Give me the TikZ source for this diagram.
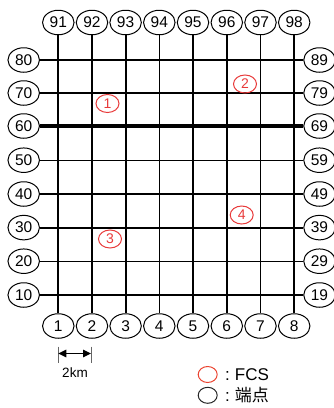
\documentclass[tikz,border=0pt]{standalone}
\usepackage{fontspec}
\setmainfont{Liberation Sans}
\newfontfamily\cjk{Noto Sans CJK SC}
\usetikzlibrary{shapes.geometric,arrows.meta}
\definecolor{fcsred}{RGB}{232,58,58}
\tikzset{
  term/.style={draw=black,line width=1pt,ellipse,minimum width=31.5pt,minimum height=24.5pt,inner sep=0pt,font=\fontsize{15.5}{17}\selectfont},
  fcs/.style={draw=fcsred,line width=1pt,ellipse,minimum width=23pt,minimum height=18pt,inner sep=0pt,text=fcsred,font=\fontsize{14}{16}\selectfont},
  thinln/.style={line width=1.1pt},
  medln/.style={line width=1.8pt},
  boldln/.style={line width=2.4pt},
  heavyln/.style={line width=4pt},
}
\begin{document}
\begin{tikzpicture}[x=1pt,y=-1pt]
\useasboundingbox (0,0) rectangle (334,408);
% top and bottom terminals
\foreach \i/\x in {1/58.3,2/92,3/125.6,4/159.3,5/193,6/226.8,7/260.5,8/294.2}{
  \pgfmathtruncatemacro{\tn}{90+\i}
  \node[term] (t\i) at (\x,22.5) {\tn};
  \node[term] (b\i) at (\x,326) {\i};
}
% left and right terminals
\foreach \j/\y in {1/295,2/261.2,3/227.6,4/194,5/160.2,6/126,7/93,8/60}{
  \pgfmathtruncatemacro{\ln}{10*\j}
  \pgfmathtruncatemacro{\rn}{10*\j+9}
  \node[term] (l\j) at (23.7,\y) {\ln};
  \node[term] (r\j) at (319.5,\y) {\rn};
}
% vertical lines
\foreach \i/\s in {1/medln,2/thinln,3/medln,4/thinln,5/thinln,6/boldln,7/thinln,8/medln}{
  \draw[\s] (t\i.south) -- (b\i.north);
}
% horizontal lines
\foreach \j/\s in {1/medln,2/thinln,3/medln,4/thinln,5/thinln,6/heavyln,7/thinln,8/medln}{
  \draw[\s] (l\j.east) -- (r\j.west);
}
% FCS
\node[fcs] (f1) at (107.5,103.5) {1};
\node[fcs] (f2) at (245,84) {2};
\node[fcs] (f3) at (110,239) {3};
\node[fcs] (f4) at (241.7,215) {4};
% scale
\coordinate (s1a) at (58.3,346.5);
\coordinate (s1b) at (58.3,363);
\coordinate (s2a) at (91,346.5);
\coordinate (s2b) at (91,363);
\draw[line width=0.8pt,gray!80!black] (s1a) -- (s1b);
\draw[line width=0.8pt,gray!80!black] (s2a) -- (s2b);
\coordinate (sl) at (58.3,353.5);
\coordinate (sr) at (91,353.5);
\draw[line width=1.1pt,{Triangle[length=8pt,width=7.5pt]}-{Triangle[length=8pt,width=7.5pt]}] (sl) -- (sr);
\node[font=\fontsize{13.5}{15}\selectfont] (km) at (75,373) {2km};
% legend
\node[draw=fcsred!85!orange,line width=1pt,ellipse,minimum width=19pt,minimum height=16pt,inner sep=0pt] (lg1) at (207.7,374.5) {};
\node[draw=black!85,line width=1pt,ellipse,minimum width=19pt,minimum height=16pt,inner sep=0pt] (lg2) at (207.7,395.3) {};
\node[anchor=west,inner sep=0pt,font=\fontsize{17}{19}\selectfont] (lt1) at (225,374.5) {:\hspace{5pt}FCS};
\node[anchor=west,inner sep=0pt,font=\fontsize{17}{19}\selectfont] (lt2) at (225,395.3) {:\hspace{5pt}{\cjk 端点}};
\end{tikzpicture}
\end{document}
